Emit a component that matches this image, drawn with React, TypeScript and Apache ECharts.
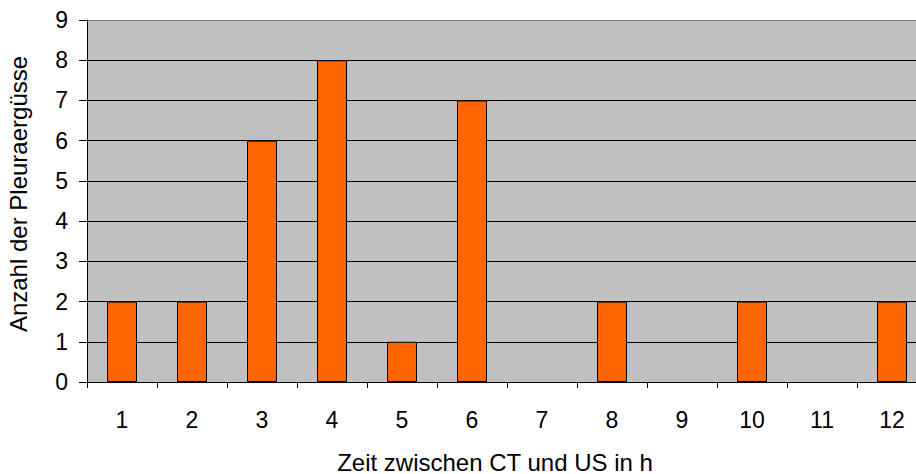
import React, { useEffect, useRef } from "react";
import * as echarts from "echarts";

const categories = ["1", "2", "3", "4", "5", "6", "7", "8", "9", "10", "11", "12"];
const counts = [2, 2, 6, 8, 1, 7, 0, 2, 0, 2, 0, 2];
const xTitle = "Zeit zwischen CT und US in h";
const yTitle = "Anzahl der Pleuraergüsse";

const FONT = "'Liberation Sans', Arial, sans-serif";
const FS_LABEL = 23;
const FS_TITLE = 24;

export default function App() {
  const ref = useRef<HTMLDivElement>(null);
  useEffect(() => {
    if (!ref.current) return;
    const chart = echarts.init(ref.current, undefined, { renderer: "svg" });
    const splitColors = ["#000", "#000", "#000", "#000", "#000", "#000", "#000", "#000", "#000", "#808080"];
    chart.setOption({
      animation: false,
      backgroundColor: "#ffffff",
      grid: {
        left: 87,
        top: 20,
        width: 840,
        height: 362,
        show: true,
        backgroundColor: "#C0C0C0",
        borderWidth: 0,
        containLabel: false,
        outerBoundsMode: "none",
      },
      xAxis: {
        type: "category",
        data: categories,
        boundaryGap: true,
        name: xTitle,
        nameLocation: "middle",
        nameGap: 68,
        nameTextStyle: { fontFamily: FONT, fontSize: FS_TITLE, color: "#000", padding: [0, 24, 0, 0] },
        axisLine: { show: true, lineStyle: { color: "#000", width: 1 } },
        axisTick: { show: true, alignWithLabel: false, length: 6, lineStyle: { color: "#000" } },
        axisLabel: { fontFamily: FONT, fontSize: FS_LABEL, color: "#000", margin: 26 },
        splitLine: { show: false },
      },
      yAxis: {
        type: "value",
        min: 0,
        max: 9,
        interval: 1,
        name: yTitle,
        nameLocation: "middle",
        nameGap: 57,
        nameRotate: 90,
        nameTextStyle: { fontFamily: FONT, fontSize: FS_TITLE, color: "#000", padding: [0, 0, 0, 14] },
        axisLine: { show: true, lineStyle: { color: "#000", width: 1 } },
        axisTick: { show: true, length: 8, lineStyle: { color: "#000" } },
        axisLabel: { fontFamily: FONT, fontSize: FS_LABEL, color: "#000", margin: 19 },
        splitLine: { show: true, lineStyle: { color: splitColors, width: 1 } },
      },
      series: [
        {
          type: "bar",
          data: counts.map((v) => ({
            value: v,
            itemStyle: v === 0 ? { borderWidth: 0, opacity: 0 } : undefined,
          })),
          barWidth: 30,
          itemStyle: { color: "#FF6600", borderColor: "#000", borderWidth: 1 },
        },
      ],
    });
    return () => chart.dispose();
  }, []);
  return (
    <div
      ref={ref}
      style={{ position: "absolute", left: 0, top: 0, width: 916, height: 474, overflow: "hidden" }}
    />
  );
}
